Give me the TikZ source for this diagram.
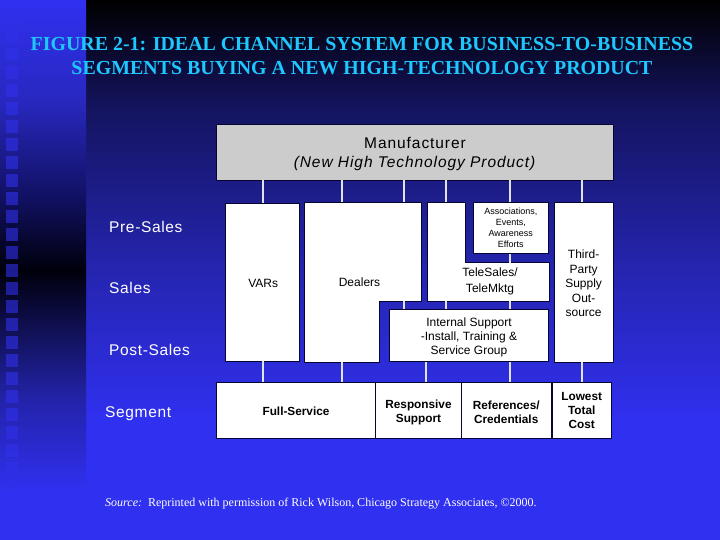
\documentclass[tikz,border=0pt]{standalone}
\usepackage{fontspec}
\setmainfont{Liberation Sans}
\newfontfamily\serifface{Liberation Serif}
\newfontfamily\widesans[LetterSpace=6]{Liberation Sans}
\newfontfamily\midsans[LetterSpace=4.2]{Liberation Sans}
\newcommand{\pad}[1]{\rule{0pt}{#1pt}}
\definecolor{brightblue}{RGB}{48,48,240}
\definecolor{linkgrey}{RGB}{225,225,235}
\definecolor{boxedge}{RGB}{5,5,50}
\definecolor{titlecyan}{RGB}{30,200,255}
\definecolor{lA}{RGB}{40,40,192}
\definecolor{lB}{RGB}{16,16,96}
\definecolor{lC}{RGB}{0,0,12}
\definecolor{lD}{RGB}{35,35,170}
\definecolor{rA}{RGB}{37,37,176}
\definecolor{rB}{RGB}{20,20,96}
\pgfdeclareverticalshading{rightbandB}{100bp}{
  color(0bp)=(brightblue); color(36bp)=(brightblue);
  color(50bp)=(rA); color(65bp)=(rB);
  color(75bp)=(black); color(100bp)=(black)}
\pgfdeclareverticalshading{leftband}{100bp}{
  color(0bp)=(brightblue); color(29.6bp)=(brightblue);
  color(38bp)=(lD); color(50bp)=(lC);
  color(56.5bp)=(lB); color(65.7bp)=(lA);
  color(75bp)=(brightblue); color(100bp)=(brightblue)}
\tikzset{
  box/.style={draw=boxedge,line width=0.8pt,fill=white,inner sep=0pt,align=center,font=\fontsize{12}{14}\selectfont,text=black},
  mfrbox/.style={box,fill=black!20,font=\widesans\fontsize{15.5}{19.5}\selectfont},
  smallbox/.style={box,font=\fontsize{9}{11}\selectfont},
  segbox/.style={box,font=\fontsize{11.8}{14.3}\selectfont\bfseries},
  link/.style={draw=linkgrey,line width=2.2pt},
  lshape/.style={draw=boxedge,line width=0.8pt,fill=white},
  caption/.style={inner sep=0pt,anchor=west,text=white,font=\midsans\fontsize{15.5}{17}\selectfont},
  label/.style={inner sep=0pt,align=center,text=black,font=\fontsize{12}{16}\selectfont},
  titletext/.style={inner sep=0pt,align=center,text=titlecyan,font=\serifface\bfseries\fontsize{19.9}{24}\selectfont},
  square/.style={fill={rgb,255:red,48;green,48;blue,235},opacity=0.6}
}
\begin{document}
\begin{tikzpicture}[x=1pt,y=-1pt]
\useasboundingbox (0,0) rectangle (720,540);
% background
\shade[shading=rightbandB] (86,0) rectangle (720,540);
\shade[shading=leftband] (0,0) rectangle (86,540);
\foreach \k in {0,...,26}{
  \fill[square] (6,12+18*\k) rectangle (18,25+18*\k);
}
% title
\node[titletext] (title) at (362,56.3) {FIGURE 2-1: IDEAL CHANNEL SYSTEM FOR BUSINESS-TO-BUSINESS\\SEGMENTS BUYING A NEW HIGH-TECHNOLOGY PRODUCT};
% column coordinates
\coordinate (c1) at (263,0);
\coordinate (c2) at (342,0);
\coordinate (c3) at (404,0);
\coordinate (c4) at (446,0);
\coordinate (c5) at (510,0);
\coordinate (c6) at (582,0);
\coordinate (c7) at (426,0);
% manufacturer
\node[mfrbox,minimum width=396.5pt,minimum height=56pt] (mfr) at (415,152) {\pad{15}Manufacturer\\\textit{(New High Technology Product)}};
% L-shaped boxes
\coordinate (dealtop) at (304.5,202.5);
\coordinate (dealbot) at (379.3,362);
\coordinate (teletop) at (427.3,202.5);
\coordinate (telebot) at (549.3,301.3);
\coordinate (telestep) at (465.7,262.7);
\filldraw[lshape] (dealtop) -- (421.3,202.5) -- (421.3,301.3) -- (379.3,301.3) -- (dealbot) -- (304.5,362) -- cycle;
\filldraw[lshape] (teletop) -- (telestep |- teletop) -- (telestep) -- (telebot |- telestep) -- (telebot) -- (teletop |- telebot) -- cycle;
\node[label] (dealers) at (359.5,282) {Dealers};
\node[label] (tele) at (490,281.5) {TeleSales/\\TeleMktg};
% boxes
\node[box,minimum width=74pt,minimum height=158pt] (vars) at (262.5,282) {\pad{11}\hspace{1.5pt}VARs};
\node[smallbox,minimum width=75pt,minimum height=51pt] (assoc) at (510.8,228) {Associations,\\Events,\\Awareness\\Efforts};
\node[box,minimum width=159.4pt,minimum height=52pt] (support) at (469,335.3) {\pad{13}Internal Support\\-Install, Training \&\\Service Group};
\node[box,minimum width=58.7pt,minimum height=159.5pt,font=\fontsize{12}{14.5}\selectfont] (third) at (583.6,282.3) {\pad{11}Third-\\Party\\Supply\\Out-\\source};
% bottom row
\node[segbox,minimum width=159pt,minimum height=56pt] (full) at (296,410.3) {\pad{11}Full-Service};
\node[segbox,minimum width=86pt,minimum height=56pt] (resp) at (418.5,410.3) {\pad{13}Responsive\\Support};
\node[segbox,minimum width=89.5pt,minimum height=56pt] (refs) at (506.2,410.3) {\pad{13}References/\\Credentials};
\node[segbox,minimum width=59.5pt,minimum height=56pt] (cost) at (581.7,410.3) {Lowest\\Total\\Cost};
% connectors
\draw[link] (mfr.south -| c1) -- (vars.north -| c1);
\draw[link] (mfr.south -| c2) -- (dealtop -| c2);
\draw[link] (mfr.south -| c3) -- (dealtop -| c3);
\draw[link] (mfr.south -| c4) -- (teletop -| c4);
\draw[link] (mfr.south -| c5) -- (assoc.north -| c5);
\draw[link] (mfr.south -| c6) -- (third.north -| c6);
\draw[link] (assoc.south -| c5) -- (telestep -| c5);
\draw[link] (telebot -| c3) -- (support.north -| c3);
\draw[link] (telebot -| c4) -- (support.north -| c4);
\draw[link] (telebot -| c5) -- (support.north -| c5);
\draw[link] (vars.south -| c1) -- (full.north -| c1);
\draw[link] (dealbot -| c2) -- (full.north -| c2);
\draw[link] (support.south -| c7) -- (resp.north -| c7);
\draw[link] (support.south -| c5) -- (refs.north -| c5);
\draw[link] (third.south -| c6) -- (cost.north -| c6);
% row captions
\node[caption] (pre) at (109,227) {Pre-Sales};
\node[caption] (sales) at (109,288) {Sales};
\node[caption] (post) at (109,350) {Post-Sales};
\node[caption] (seg) at (105,414) {Segment};
% source
\node[inner sep=0pt,anchor=west,text=white,font=\serifface\fontsize{12}{14}\selectfont] (source) at (105,503.5) {\textit{Source:}\hspace{2pt} Reprinted with permission of Rick Wilson, Chicago Strategy Associates, ©2000.};
\end{tikzpicture}
\end{document}
